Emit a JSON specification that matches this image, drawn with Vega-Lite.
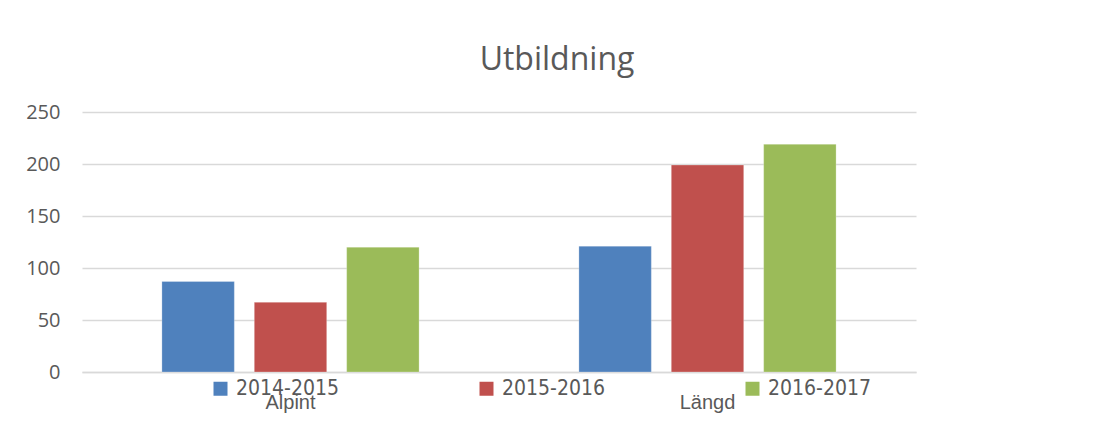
{
  "$schema": "https://vega.github.io/schema/vega-lite/v6.json",
  "width": 834,
  "height": 260,
  "autosize": {"type": "none"},
  "padding": {"left": 82, "top": 112, "right": 180, "bottom": 56},
  "background": "white",
  "title": {
    "text": "Utbildning",
    "frame": "group",
    "anchor": "middle",
    "dx": 58,
    "baseline": "alphabetic",
    "offset": 0,
    "font": "Open Sans",
    "fontSize": 32,
    "fontWeight": "normal",
    "color": "#595959"
  },
  "data": {
    "values": [
      {"kategori": "Alpint", "period": "2014-2015", "antal": 87},
      {"kategori": "Alpint", "period": "2015-2016", "antal": 67},
      {"kategori": "Alpint", "period": "2016-2017", "antal": 120},
      {"kategori": "Längd", "period": "2014-2015", "antal": 121},
      {"kategori": "Längd", "period": "2015-2016", "antal": 199},
      {"kategori": "Längd", "period": "2016-2017", "antal": 219}
    ]
  },
  "mark": {"type": "bar", "stroke": "#ffffff", "strokeOpacity": 0.25, "strokeWidth": 1},
  "encoding": {
    "x": {
      "field": "kategori",
      "type": "nominal",
      "sort": null,
      "scale": {"paddingInner": 0, "paddingOuter": 0},
      "axis": {
        "title": null,
        "labelAngle": 0,
        "ticks": false,
        "domain": true,
        "domainColor": "#d9d9d9",
        "domainWidth": 1.5,
        "labelPadding": 20,
        "labelFont": "Liberation Sans",
        "labelFontSize": 20,
        "labelColor": "#595959"
      }
    },
    "xOffset": {
      "field": "period",
      "type": "nominal",
      "sort": null,
      "scale": {"paddingInner": 0.216, "paddingOuter": 0.865}
    },
    "y": {
      "field": "antal",
      "type": "quantitative",
      "scale": {"domain": [0, 250], "nice": false},
      "axis": {
        "title": null,
        "values": [0, 50, 100, 150, 200, 250],
        "ticks": false,
        "domain": false,
        "grid": true,
        "gridColor": "#d9d9d9",
        "gridWidth": 1.5,
        "labelPadding": 22,
        "labelFont": "Open Sans",
        "labelFontSize": 20,
        "labelColor": "#595959"
      }
    },
    "color": {
      "field": "period",
      "type": "nominal",
      "sort": null,
      "scale": {"domain": ["2014-2015", "2015-2016", "2016-2017"], "range": ["#4f81bd", "#c0504d", "#9bbb59"]},
      "legend": {
        "title": null,
        "orient": "none",
        "legendX": 128,
        "legendY": 266,
        "direction": "horizontal",
        "columns": 3,
        "columnPadding": 137,
        "symbolType": "square",
        "symbolSize": 196,
        "symbolStrokeWidth": 0,
        "symbolOpacity": 1,
        "labelOffset": 5,
        "labelFont": "DejaVu Sans Condensed",
        "labelFontSize": 21,
        "labelColor": "#595959",
        "padding": 0
      }
    }
  },
  "config": {
    "view": {"stroke": null}
  }
}
